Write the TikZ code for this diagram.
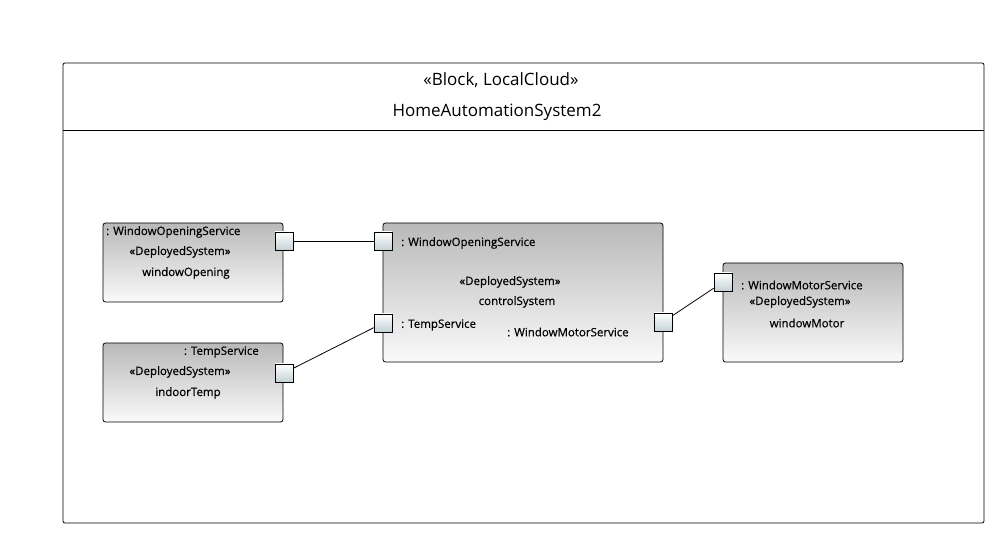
\documentclass[tikz,border=0pt]{standalone}
\usepackage{fontspec}
\setmainfont{Open Sans}
\newfontfamily\lblfont[FakeBold=0.6]{Open Sans}
\begin{document}
\begin{tikzpicture}[x=1pt,y=-1pt,
  part/.style={draw=black, line width=0.8pt, rounded corners=2.5pt, top color=gray!55, bottom color=gray!4, anchor=north west, inner sep=0pt},
  port/.style={draw=black, line width=0.7pt, minimum size=18pt, inner sep=0pt, top color=white, bottom color={rgb,255:red,196;green,210;blue,214}},
  lbl/.style={font=\lblfont\fontsize{11.5}{13}\selectfont, inner sep=0pt},
  conn/.style={draw=black, line width=0.8pt}]
\useasboundingbox (0,0) rectangle (994,534);
% frame
\draw[line width=0.8pt, rounded corners=2pt] (63,63) rectangle (984,523);
\coordinate (hl) at (63,130);
\coordinate (hr) at (984,130);
\draw[line width=0.8pt] (hl) -- (hr);
\node[font=\fontsize{17}{19}\selectfont, inner sep=0pt] (st) at (501,80) {«Block, LocalCloud»};
\node[font=\fontsize{17}{19}\selectfont, inner sep=0pt] (nm) at (497,112) {HomeAutomationSystem2};
% parts
\path[part] (103,223) rectangle (283,302);
\node[lbl, anchor=west] (a1) at (106,232) {: WindowOpeningService};
\node[lbl] (a2) at (180,252) {«DeployedSystem»};
\node[lbl] (a3) at (186,273) {windowOpening};

\path[part] (103,343) rectangle (283,422);
\node[lbl, anchor=east] (b1) at (259,352) {: TempService};
\node[lbl] (b2) at (180,372) {«DeployedSystem»};
\node[lbl] (b3) at (188,393) {indoorTemp};

\path[part] (383,223) rectangle (663,362);
\node[lbl, anchor=west] (c1) at (401,243) {: WindowOpeningService};
\node[lbl] (c2) at (510,282) {«DeployedSystem»};
\node[lbl] (c3) at (517,302) {controlSystem};
\node[lbl, anchor=west] (c4) at (401,325) {: TempService};
\node[lbl, anchor=west] (c5) at (507,332) {: WindowMotorService};

\path[part] (723,263) rectangle (903,362);
\node[lbl, anchor=west] (d1) at (741,285) {: WindowMotorService};
\node[lbl] (d2) at (800,302) {«DeployedSystem»};
\node[lbl] (d3) at (807,323) {windowMotor};
% ports
\node[port] (pA) at (284,241) {};
\node[port] (pB) at (284,373) {};
\node[port] (pC1) at (383,241) {};
\node[port] (pC2) at (383,323) {};
\node[port] (pC3) at (663,322) {};
\node[port] (pD) at (723,282) {};
% connectors
\draw[conn] (pA) -- (pC1);
\draw[conn] (pB) -- (pC2);
\draw[conn] (pC3) -- (pD);
\end{tikzpicture}
\end{document}
